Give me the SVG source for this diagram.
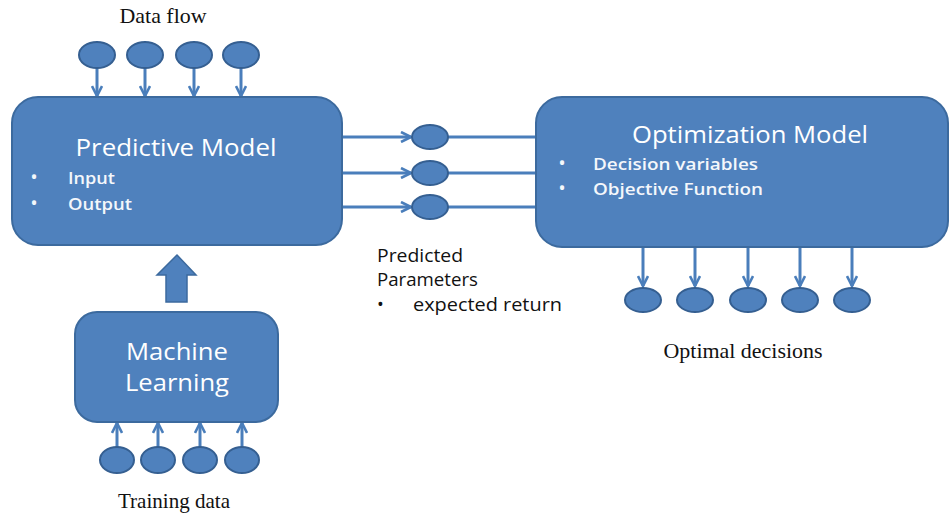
<svg xmlns="http://www.w3.org/2000/svg" width="951" height="518" viewBox="0 0 951 518">
  <style>
    .box { fill: #4f81bd; stroke: #3c6a9e; stroke-width: 2; }
    .dot { fill: #4f81bd; stroke: #355f91; stroke-width: 2; }
    .wire { fill: none; stroke: #4a7ebb; stroke-width: 3; }
    .title { font-family: "Open Sans", "Noto Sans", sans-serif; fill: #ffffff; font-size: 23px; text-anchor: middle; }
    .item { font-family: "Open Sans", "Noto Sans", sans-serif; fill: #f4f7fb; font-size: 17px; font-weight: 600; }
    .bul { font-family: "Open Sans", "Noto Sans", sans-serif; fill: #f4f7fb; font-size: 20px; text-anchor: middle; }
    .cap { font-family: "Liberation Serif", "DejaVu Serif", serif; fill: #111111; font-size: 21px; text-anchor: middle; }
    .note { font-family: "Open Sans", "Noto Sans", sans-serif; fill: #111111; font-size: 18px; }
  </style>
  <defs>
    <marker id="chev" viewBox="0 0 12 12" refX="11" refY="6" markerWidth="12" markerHeight="12" markerUnits="userSpaceOnUse" orient="auto">
      <path d="M1,1 L11,6 L1,11" fill="none" stroke="#4a7ebb" stroke-width="2.6"/>
    </marker>
  </defs>

  <!-- connectors -->
  <g id="connectors">
    <!-- data flow into predictive model -->
    <path class="wire" d="M97,68 V96" marker-end="url(#chev)"/>
    <path class="wire" d="M145,68 V96" marker-end="url(#chev)"/>
    <path class="wire" d="M194,68 V96" marker-end="url(#chev)"/>
    <path class="wire" d="M241,68 V96" marker-end="url(#chev)"/>
    <!-- predicted parameters -->
    <path class="wire" d="M342,137 H411" marker-end="url(#chev)"/>
    <path class="wire" d="M342,173 H411" marker-end="url(#chev)"/>
    <path class="wire" d="M342,207 H411" marker-end="url(#chev)"/>
    <path class="wire" d="M448,137 H536"/>
    <path class="wire" d="M448,173 H536"/>
    <path class="wire" d="M448,207 H536"/>
    <!-- optimal decisions -->
    <path class="wire" d="M643,247 V286" marker-end="url(#chev)"/>
    <path class="wire" d="M695,247 V286" marker-end="url(#chev)"/>
    <path class="wire" d="M748,247 V286" marker-end="url(#chev)"/>
    <path class="wire" d="M800,247 V286" marker-end="url(#chev)"/>
    <path class="wire" d="M852,247 V286" marker-end="url(#chev)"/>
    <!-- training data into machine learning -->
    <path class="wire" d="M117,447 V423" marker-end="url(#chev)"/>
    <path class="wire" d="M158,447 V423" marker-end="url(#chev)"/>
    <path class="wire" d="M200,447 V423" marker-end="url(#chev)"/>
    <path class="wire" d="M242,447 V423" marker-end="url(#chev)"/>
    <!-- block arrow: machine learning to predictive model -->
    <path d="M166,302 V275 H157 L177,255 L196,275 H187 V302 Z" fill="#4f81bd" stroke="#3c6a9e" stroke-width="1.5"/>
  </g>

  <!-- data flow inputs -->
  <g id="data-flow">
    <text class="cap" x="163" y="23" textLength="87" lengthAdjust="spacingAndGlyphs">Data flow</text>
    <ellipse class="dot" cx="97" cy="55" rx="18" ry="13"/>
    <ellipse class="dot" cx="145" cy="55" rx="18" ry="13"/>
    <ellipse class="dot" cx="194" cy="55" rx="18" ry="13"/>
    <ellipse class="dot" cx="241" cy="55" rx="18" ry="13"/>
  </g>

  <!-- predictive model -->
  <g id="predictive-model">
    <rect class="box" x="12" y="97" width="330" height="148" rx="26"/>
    <text class="title" x="176" y="156" textLength="201" lengthAdjust="spacingAndGlyphs">Predictive Model</text>
    <text class="bul" x="34" y="184">•</text>
    <text class="item" x="68" y="184" textLength="47" lengthAdjust="spacingAndGlyphs">Input</text>
    <text class="bul" x="34" y="210">•</text>
    <text class="item" x="68" y="210" textLength="64" lengthAdjust="spacingAndGlyphs">Output</text>
  </g>

  <!-- predicted parameters -->
  <g id="predicted-parameters">
    <ellipse class="dot" cx="430" cy="137" rx="18" ry="12"/>
    <ellipse class="dot" cx="430" cy="173" rx="18" ry="12"/>
    <ellipse class="dot" cx="430" cy="207" rx="18" ry="12"/>
    <text class="note" x="377" y="262" textLength="86" lengthAdjust="spacingAndGlyphs">Predicted</text>
    <text class="note" x="377" y="286" textLength="101" lengthAdjust="spacingAndGlyphs">Parameters</text>
    <text class="note" x="377" y="311">•</text>
    <text class="note" x="413" y="311" textLength="149" lengthAdjust="spacingAndGlyphs">expected return</text>
  </g>

  <!-- optimization model -->
  <g id="optimization-model">
    <rect class="box" x="536" y="97" width="412" height="150" rx="26"/>
    <text class="title" x="750" y="143" textLength="236" lengthAdjust="spacingAndGlyphs">Optimization Model</text>
    <text class="bul" x="562" y="170">•</text>
    <text class="item" x="593" y="170" textLength="165" lengthAdjust="spacingAndGlyphs">Decision variables</text>
    <text class="bul" x="562" y="195">•</text>
    <text class="item" x="593" y="195" textLength="170" lengthAdjust="spacingAndGlyphs">Objective Function</text>
  </g>

  <!-- optimal decisions -->
  <g id="optimal-decisions">
    <ellipse class="dot" cx="643" cy="300" rx="18" ry="12"/>
    <ellipse class="dot" cx="695" cy="300" rx="18" ry="12"/>
    <ellipse class="dot" cx="748" cy="300" rx="18" ry="12"/>
    <ellipse class="dot" cx="800" cy="300" rx="18" ry="12"/>
    <ellipse class="dot" cx="852" cy="300" rx="18" ry="12"/>
    <text class="cap" x="743" y="358" textLength="159" lengthAdjust="spacingAndGlyphs">Optimal decisions</text>
  </g>

  <!-- machine learning -->
  <g id="machine-learning">
    <rect class="box" x="75" y="312" width="203" height="110" rx="22"/>
    <text class="title" x="177" y="360" textLength="102" lengthAdjust="spacingAndGlyphs">Machine</text>
    <text class="title" x="177" y="391" textLength="104" lengthAdjust="spacingAndGlyphs">Learning</text>
  </g>

  <!-- training data -->
  <g id="training-data">
    <ellipse class="dot" cx="117" cy="460" rx="17" ry="13"/>
    <ellipse class="dot" cx="158" cy="460" rx="17" ry="13"/>
    <ellipse class="dot" cx="200" cy="460" rx="17" ry="13"/>
    <ellipse class="dot" cx="242" cy="460" rx="17" ry="13"/>
    <text class="cap" x="174" y="508" textLength="112" lengthAdjust="spacingAndGlyphs">Training data</text>
  </g>
</svg>
